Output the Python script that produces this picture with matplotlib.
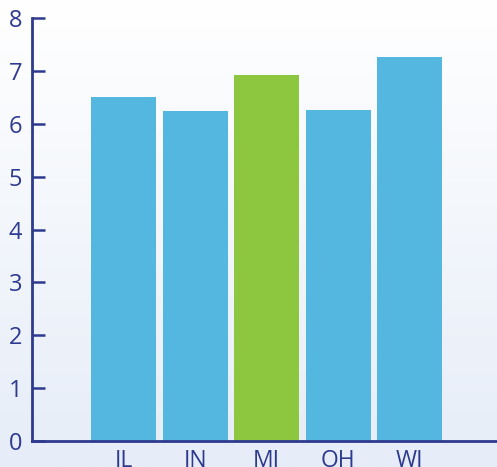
import matplotlib
matplotlib.use("Agg")
import matplotlib.pyplot as plt
import numpy as np
from matplotlib.colors import LinearSegmentedColormap

categories = ["IL", "IN", "MI", "OH", "WI"]
values = [6.50, 6.24, 6.92, 6.26, 7.26]
bar_colors = ["#53B7E0", "#53B7E0", "#8DC63F", "#53B7E0", "#53B7E0"]
yticks = [0, 1, 2, 3, 4, 5, 6, 7, 8]

navy = "#2E3A8F"
plt.rcParams['font.family'] = ['Open Sans', 'DejaVu Sans']

W, H = 497, 467
fig = plt.figure(figsize=(W/100, H/100), dpi=100)

# background gradient
bg = fig.add_axes([0, 0, 1, 1], zorder=-10)
grad = np.linspace(0, 1, 256).reshape(-1, 1)
cmap = LinearSegmentedColormap.from_list("g", ["#FFFFFF", "#E6EDF8"])
bg.imshow(grad, aspect="auto", cmap=cmap, extent=[0, 1, 0, 1], origin="upper")
bg.set_axis_off()

ax = fig.add_axes([32/W, (H-441)/H, 1-32/W, (441-18)/H])
ax.patch.set_alpha(0)
x = np.arange(len(categories))
ax.bar(x, values, width=0.91, color=bar_colors, zorder=2)
ax.set_xlim(-1.28, 5.22)
ax.set_ylim(0, 8)
ax.set_yticks(yticks)
ax.set_xticks(x)
ax.set_xticklabels(categories)
for s in ["top", "right"]:
    ax.spines[s].set_visible(False)
ax.spines["left"].set_color(navy)
ax.spines["left"].set_linewidth(2)
ax.spines["bottom"].set_color(navy)
ax.spines["bottom"].set_linewidth(2)
ax.spines["bottom"].set_zorder(3)
ax.tick_params(axis="y", direction="in", length=9, width=1.8, color=navy,
               labelcolor=navy, labelsize=17, pad=7)
ax.tick_params(axis="x", length=0, labelcolor=navy, labelsize=16.5, pad=6)

fig.savefig("out.png", dpi=100)
